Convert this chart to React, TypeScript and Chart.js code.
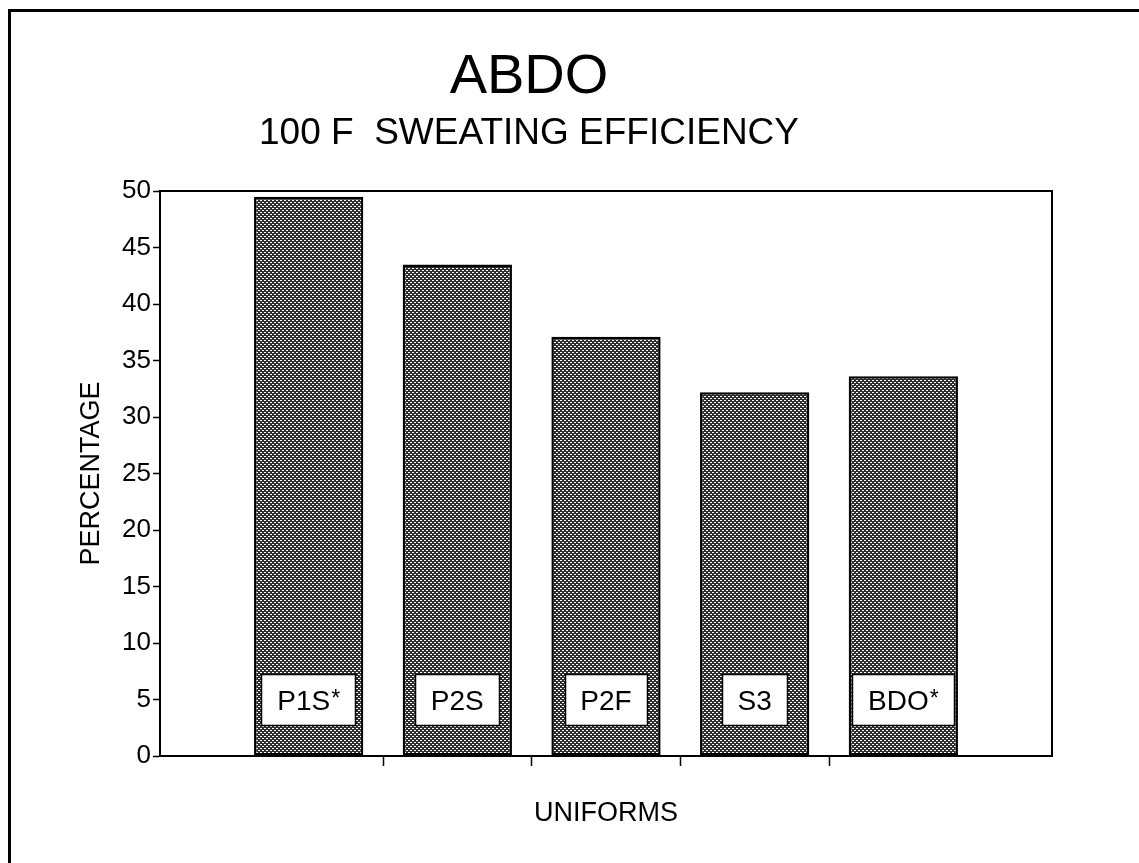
import React, { useEffect, useRef } from 'react';
import { Chart, registerables } from 'chart.js';

Chart.register(...registerables);

const TITLE = 'ABDO';
const SUBTITLE = '100 F  SWEATING EFFICIENCY';
const X_TITLE = 'UNIFORMS';
const Y_TITLE = 'PERCENTAGE';
const CATEGORIES = ['P1S*', 'P2S', 'P2F', 'S3', 'BDO*'];
const VALUES = [49.5, 43.5, 37.1, 32.2, 33.6];
const Y_MIN = 0;
const Y_MAX = 50;
const Y_STEP = 5;
const LABEL_LEVEL = 5; // value at which the label boxes are centred

const FONT = "'Liberation Sans', Arial, Helvetica, sans-serif";

function makePattern(ctx: CanvasRenderingContext2D): CanvasPattern | string {
  const c = document.createElement('canvas');
  c.width = 4;
  c.height = 4;
  const g = c.getContext('2d');
  if (!g) return '#666';
  g.fillStyle = '#2e2e2e';
  g.fillRect(0, 0, 4, 4);
  g.fillStyle = '#fff';
  g.fillRect(0, 0, 2, 1);
  g.fillRect(2, 2, 2, 1);
  return ctx.createPattern(c, 'repeat') || '#666';
}

const framePlugin = {
  id: 'framePlugin',
  beforeDraw(chart: any) {
    const ctx = chart.ctx;
    ctx.save();
    ctx.fillStyle = '#fff';
    ctx.fillRect(0, 0, chart.width, chart.height);
    ctx.fillStyle = '#000';
    ctx.fillRect(8, 9, 3, chart.height - 9);
    ctx.fillRect(8, 9, chart.width - 8, 3);
    ctx.restore();
  },
  afterDraw(chart: any) {
    const a = chart.chartArea;
    const ctx = chart.ctx;
    ctx.save();
    ctx.strokeStyle = '#000';
    ctx.lineWidth = 2;
    ctx.beginPath();
    ctx.moveTo(a.left, a.top);
    ctx.lineTo(a.right, a.top);
    ctx.lineTo(a.right, a.bottom);
    ctx.stroke();
    ctx.restore();
  },
};

const boxLabelPlugin = {
  id: 'boxLabelPlugin',
  afterDatasetsDraw(chart: any) {
    const ctx = chart.ctx;
    const meta = chart.getDatasetMeta(0);
    const yPix = chart.scales.y.getPixelForValue(LABEL_LEVEL);
    const data = chart.data.datasets[0].data;
    meta.data.forEach((el: any, i: number) => {
      if (data[i] == null) return;
      const label = String(chart.data.labels[i]);
      const star = label.endsWith('*');
      const base = star ? label.slice(0, -1) : label;
      ctx.save();
      ctx.font = `28px ${FONT}`;
      const w1 = ctx.measureText(base).width;
      ctx.font = `23px ${FONT}`;
      const w2 = star ? ctx.measureText('*').width + 1 : 0;
      const tw = w1 + w2;
      const bw = Math.round(tw + 32);
      const bh = 52;
      const bx = Math.round(el.x - bw / 2);
      const by = Math.round(yPix - bh / 2);
      ctx.fillStyle = '#fff';
      ctx.fillRect(bx, by, bw, bh);
      ctx.strokeStyle = '#000';
      ctx.lineWidth = 1.5;
      ctx.strokeRect(bx + 0.5, by + 0.5, bw - 1, bh - 1);
      ctx.fillStyle = '#000';
      ctx.textAlign = 'left';
      ctx.textBaseline = 'alphabetic';
      const baseline = yPix + (28 * 0.716) / 2;
      const startX = el.x - tw / 2;
      ctx.font = `28px ${FONT}`;
      ctx.fillText(base, startX, baseline);
      if (star) {
        ctx.font = `23px ${FONT}`;
        ctx.fillText('*', startX + w1 + 1, baseline - 4);
      }
      ctx.restore();
    });
  },
};

export default function App() {
  const canvasRef = useRef<HTMLCanvasElement | null>(null);

  useEffect(() => {
    const canvas = canvasRef.current;
    if (!canvas) return;
    const ctx = canvas.getContext('2d');
    if (!ctx) return;
    const pattern = makePattern(ctx);
    const labels = ['', ...CATEGORIES, ''];
    const values = [null, ...VALUES, null];

    const chart = new Chart(ctx, {
      type: 'bar',
      data: {
        labels,
        datasets: [
          {
            data: values as any,
            backgroundColor: pattern as any,
            borderColor: '#000',
            borderWidth: 2.5,
            borderSkipped: false,
            categoryPercentage: 1,
            barPercentage: 0.735,
          },
        ],
      },
      options: {
        responsive: false,
        animation: false,
        layout: { padding: { left: 6, right: 87, top: 0, bottom: 0 } },
        plugins: {
          legend: { display: false },
          tooltip: { enabled: false },
          title: {
            display: true,
            text: TITLE,
            color: '#000',
            font: { family: FONT, size: 56, weight: 'normal', lineHeight: 1 },
            padding: { top: 50, bottom: 0 },
          },
          subtitle: {
            display: true,
            text: SUBTITLE,
            color: '#000',
            font: { family: FONT, size: 37, weight: 'normal', lineHeight: 1 },
            padding: { top: 9, bottom: 39 },
          },
        },
        scales: {
          x: {
            type: 'category',
            offset: false,
            grid: {
              display: true,
              drawOnChartArea: false,
              offset: true,
              tickLength: 10,
              tickWidth: 1.5,
              tickColor: (c: any) =>
                c.index >= 2 && c.index <= 5 ? '#000' : 'rgba(0,0,0,0)',
            },
            border: { display: true, color: '#000', width: 2 },
            ticks: { display: false },
            title: {
              display: true,
              text: X_TITLE,
              color: '#000',
              font: { family: FONT, size: 27, lineHeight: 1 },
              padding: { top: 0, bottom: 36 },
            },
            afterFit: (s: any) => {
              s.height = 107;
            },
          } as any,
          y: {
            min: Y_MIN,
            max: Y_MAX,
            ticks: {
              stepSize: Y_STEP,
              color: '#000',
              font: { family: FONT, size: 26 },
              padding: 2,
            },
            grid: {
              drawOnChartArea: false,
              tickLength: 7,
              tickWidth: 1.5,
              tickColor: '#000',
            },
            border: { display: true, color: '#000', width: 2 },
            title: {
              display: true,
              text: Y_TITLE,
              color: '#000',
              font: { family: FONT, size: 27, lineHeight: 1 },
              padding: { top: 72, bottom: 0 },
            },
            afterFit: (s: any) => {
              s.width = 154;
            },
          } as any,
        },
      },
      plugins: [framePlugin, boxLabelPlugin],
    });

    return () => {
      chart.destroy();
    };
  }, []);

  return (
    <div
      style={{
        position: 'fixed',
        left: 0,
        top: 0,
        width: 1139,
        height: 863,
        background: '#fff',
      }}
    >
      <canvas
        ref={canvasRef}
        width={1139}
        height={863}
        style={{ display: 'block', width: 1139, height: 863 }}
      />
    </div>
  );
}
